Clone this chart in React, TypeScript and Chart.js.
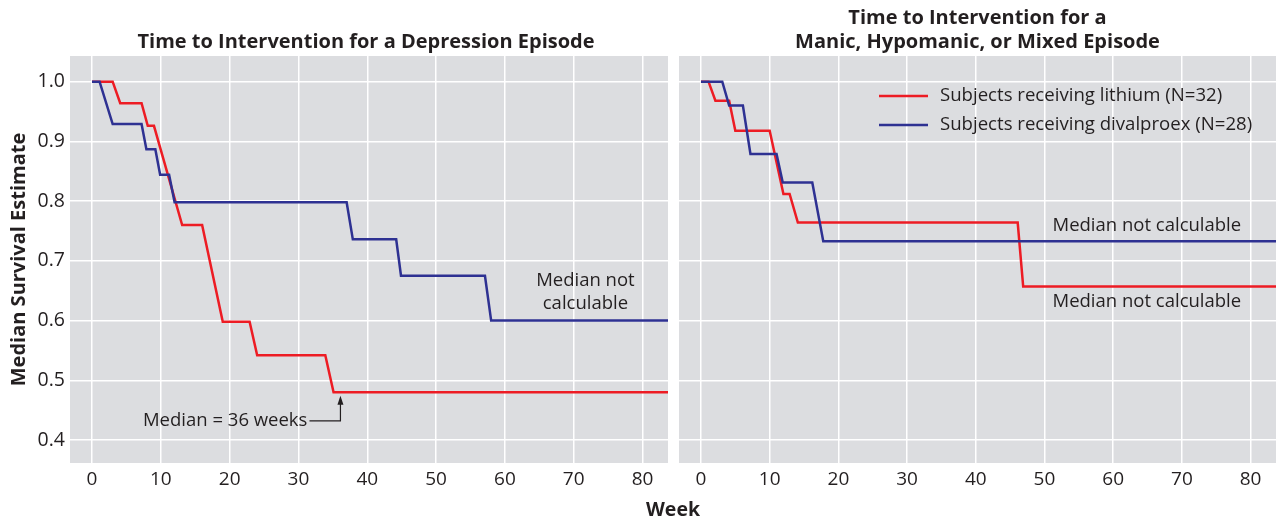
import React, { useEffect, useRef } from "react";
import { Chart, registerables } from "chart.js";

Chart.register(...registerables);

// ---------- data ----------
const weekTicks = [0, 10, 20, 30, 40, 50, 60, 70, 80];
const survivalTicks = [0.4, 0.5, 0.6, 0.7, 0.8, 0.9, 1.0];

const depressionLithiumWeeks = [0, 3.0, 4.1, 7.2, 8.1, 9.0, 13.1, 16.0, 19.0, 22.9, 24.0, 33.9, 35.1, 83.7];
const depressionLithiumSurvival = [1.0, 1.0, 0.964, 0.964, 0.926, 0.926, 0.76, 0.76, 0.598, 0.598, 0.542, 0.542, 0.48, 0.48];

const depressionDivalproexWeeks = [0, 1.1, 3.0, 7.2, 7.9, 9.2, 9.9, 11.2, 12.0, 37.0, 37.9, 44.2, 44.9, 57.1, 58.0, 83.7];
const depressionDivalproexSurvival = [1.0, 1.0, 0.929, 0.929, 0.887, 0.887, 0.844, 0.844, 0.798, 0.798, 0.736, 0.736, 0.675, 0.675, 0.6, 0.6];

const manicLithiumWeeks = [0, 1.1, 2.1, 4.1, 5.0, 10.0, 12.0, 12.9, 14.1, 46.1, 46.9, 83.7];
const manicLithiumSurvival = [1.0, 1.0, 0.968, 0.968, 0.918, 0.918, 0.812, 0.812, 0.764, 0.764, 0.657, 0.657];

const manicDivalproexWeeks = [0, 3.1, 4.1, 6.1, 7.2, 11.0, 11.9, 16.2, 17.8, 83.7];
const manicDivalproexSurvival = [1.0, 1.0, 0.96, 0.96, 0.879, 0.879, 0.831, 0.831, 0.733, 0.733];

const seriesLabels = ["Subjects receiving lithium (N=32)", "Subjects receiving divalproex (N=28)"];
const depressionTitle = ["Time to Intervention for a Depression Episode"];
const manicTitle = ["Time to Intervention for a", "Manic, Hypomanic, or Mixed Episode"];
const yAxisTitle = "Median Survival Estimate";
const xAxisTitle = "Week";
const notCalculable = "Median not calculable";
const medianNote = "Median = 36 weeks";
const medianWeek = 36.1;

// ---------- style ----------
const W = 1276;
const H = 520;
const RED = "#ed1c24";
const BLUE = "#2e3192";
const PANEL = "#dcdde0";
const TEXT = "#231f20";
const FONT = "'Open Sans', 'Noto Sans', sans-serif";
const X_MIN = -3.2;
const X_MAX = 83.7;
const Y_MIN = 0.3615;
const Y_MAX = 1.043;

const toPoints = (xs: number[], ys: number[]) => xs.map((x, i) => ({ x, y: ys[i] }));

const panelBg = {
  id: "panelBg",
  beforeDraw(chart: any) {
    const { ctx, chartArea } = chart;
    ctx.save();
    ctx.fillStyle = PANEL;
    ctx.fillRect(chartArea.left, chartArea.top, chartArea.right - chartArea.left, chartArea.bottom - chartArea.top);
    ctx.restore();
  },
};

function makeConfig(side: "left" | "right") {
  const isLeft = side === "left";
  const red = isLeft ? toPoints(depressionLithiumWeeks, depressionLithiumSurvival) : toPoints(manicLithiumWeeks, manicLithiumSurvival);
  const blue = isLeft ? toPoints(depressionDivalproexWeeks, depressionDivalproexSurvival) : toPoints(manicDivalproexWeeks, manicDivalproexSurvival);

  const annotations = {
    id: "annotations_" + side,
    afterDraw(chart: any) {
      const { ctx, chartArea } = chart;
      const xs = chart.scales.x;
      const ys = chart.scales.y;
      const px = (v: number) => xs.getPixelForValue(v);
      const py = (v: number) => ys.getPixelForValue(v);
      const cx = (chartArea.left + chartArea.right) / 2;
      ctx.save();
      ctx.fillStyle = TEXT;
      ctx.strokeStyle = TEXT;
      // panel title
      ctx.font = `bold 20px ${FONT}`;
      ctx.textAlign = "center";
      ctx.textBaseline = "middle";
      const titleLines = isLeft ? depressionTitle : manicTitle;
      titleLines.forEach((line, i) => {
        const y = chartArea.top - 14 - (titleLines.length - 1 - i) * 24;
        ctx.fillText(line, cx - (isLeft ? 3 : 0), y);
      });

      ctx.font = `18.5px ${FONT}`;
      if (isLeft) {
        ctx.textAlign = "center";
        ctx.fillText("Median not", px(71.7), py(0.667));
        ctx.fillText("calculable", px(71.7), py(0.628));
        // median arrow
        ctx.textAlign = "right";
        ctx.fillText(medianNote, px(31.3), py(0.432));
        ctx.lineWidth = 1.2;
        ctx.beginPath();
        ctx.moveTo(px(31.6), py(0.432));
        ctx.lineTo(px(medianWeek), py(0.432));
        ctx.lineTo(px(medianWeek), py(0.47));
        ctx.stroke();
        const tipX = px(medianWeek);
        const tipY = py(0.474);
        ctx.beginPath();
        ctx.moveTo(tipX, tipY);
        ctx.lineTo(tipX - 3, tipY + 9);
        ctx.lineTo(tipX + 3, tipY + 9);
        ctx.closePath();
        ctx.fill();
        // x-axis title (shared)
        ctx.font = `bold 19.5px ${FONT}`;
        ctx.textAlign = "center";
        ctx.fillText(xAxisTitle, 673, 510);
      } else {
        ctx.textAlign = "center";
        ctx.fillText(notCalculable, px(64.9), py(0.758));
        ctx.fillText(notCalculable, px(64.9), py(0.631));
        // legend
        ctx.font = `18.6px ${FONT}`;
        ctx.textAlign = "left";
        const lx = chartArea.left + 200;
        [RED, BLUE].forEach((c, i) => {
          const ly = chartArea.top + 40 + i * 29;
          ctx.strokeStyle = c;
          ctx.lineWidth = 2.5;
          ctx.beginPath();
          ctx.moveTo(lx, ly);
          ctx.lineTo(lx + 49, ly);
          ctx.stroke();
          ctx.fillStyle = TEXT;
          ctx.fillText(seriesLabels[i], lx + 61, ly);
        });
      }
      ctx.restore();
    },
  };

  return {
    type: "line" as const,
    data: {
      datasets: [
        { label: seriesLabels[0], data: red, borderColor: RED, borderWidth: 2.5, pointRadius: 0, tension: 0, fill: false, order: 2 },
        { label: seriesLabels[1], data: blue, borderColor: BLUE, borderWidth: 2.5, pointRadius: 0, tension: 0, fill: false, order: 1 },
      ],
    },
    options: {
      animation: false as const,
      responsive: false,
      maintainAspectRatio: false,
      events: [],
      layout: {
        padding: isLeft ? { left: 0, right: W - 668, top: 56, bottom: 0 } : { left: 679, right: 0, top: 56, bottom: 0 },
      },
      plugins: { legend: { display: false }, title: { display: false }, tooltip: { enabled: false } },
      scales: {
        x: {
          type: "linear" as const,
          min: X_MIN,
          max: X_MAX,
          afterBuildTicks: (s: any) => { s.ticks = weekTicks.map((v) => ({ value: v })); },
          afterFit: (s: any) => { s.height = H - 463; },
          border: { display: false },
          grid: { color: "#ffffff", lineWidth: 1.5, drawTicks: false },
          ticks: { color: TEXT, font: { family: FONT, size: 19 }, padding: 5, autoSkip: false, maxRotation: 0 },
        },
        y: {
          type: "linear" as const,
          min: Y_MIN,
          max: Y_MAX,
          afterBuildTicks: (s: any) => { s.ticks = survivalTicks.map((v) => ({ value: v })); },
          afterFit: (s: any) => { s.width = isLeft ? 70 : 0; },
          border: { display: false },
          grid: { color: "#ffffff", lineWidth: 1.5, drawTicks: false },
          ticks: {
            display: isLeft,
            color: TEXT,
            font: { family: FONT, size: 19.5 },
            padding: 5,
            callback: (v: any) => Number(v).toFixed(1),
          },
          title: {
            display: isLeft,
            text: yAxisTitle,
            color: TEXT,
            font: { family: FONT, size: 20, weight: "bold" as const },
            padding: { top: 7, bottom: 0 },
          },
        },
      },
    },
    plugins: [panelBg, annotations],
  };
}

function Panel({ side }: { side: "left" | "right" }) {
  const ref = useRef<HTMLCanvasElement | null>(null);
  useEffect(() => {
    if (!ref.current) return;
    const chart = new Chart(ref.current, makeConfig(side) as any);
    return () => chart.destroy();
  }, [side]);
  return (
    <canvas
      ref={ref}
      width={W}
      height={H}
      style={{ position: "absolute", left: 0, top: 0, width: W, height: H }}
    />
  );
}

export default function App() {
  return (
    <div style={{ position: "fixed", left: 0, top: 0, width: W, height: H, background: "#ffffff" }}>
      <Panel side="left" />
      <Panel side="right" />
    </div>
  );
}
